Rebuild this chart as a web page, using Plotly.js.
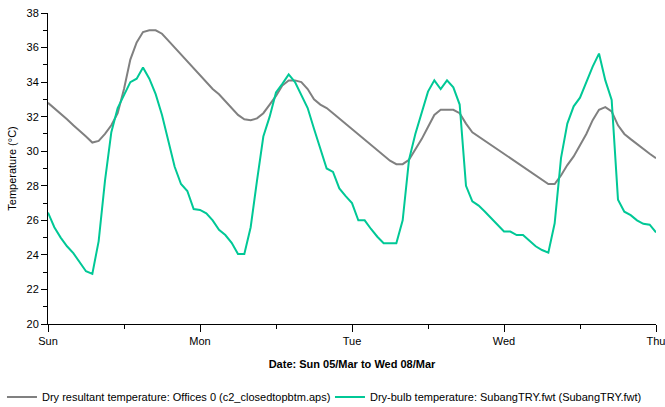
<!DOCTYPE html>
<html>
<head>
<meta charset="utf-8">
<script src="https://cdn.plot.ly/plotly-3.0.1.min.js"></script>
<style>
html,body{margin:0;padding:0;background:#fff;}
#chart{width:665px;height:407px;}
</style>
</head>
<body>
<div id="chart"></div>
<script>
// Hours from Sun 05/Mar 00:00 to Thu 09/Mar 00:00
var hours = [];
for (var i = 0; i <= 96; i++) hours.push(i);

var dayTickVals = [0, 24, 48, 72, 96];
var dayTickText = ["Sun", "Mon", "Tue", "Wed", "Thu"];
var halfDayTicks = [12, 36, 60, 84];

// Dry resultant temperature: Offices 0 (c2_closedtopbtm.aps)
var dryResultant = [
  32.8, 32.5, 32.2, 31.85, 31.5, 31.2, 30.85, 30.5, 30.6, 31.0,
  31.5, 32.2, 33.6, 35.3, 36.3, 36.9, 37.0, 37.0, 36.8, 36.4,
  36.0, 35.6, 35.2, 34.8, 34.4, 34.0, 33.6, 33.3, 32.9, 32.5,
  32.1, 31.85, 31.8, 31.9, 32.2, 32.7, 33.2, 33.8, 34.1, 34.1,
  34.0, 33.6, 33.0, 32.7, 32.5, 32.2, 31.9, 31.55, 31.25, 30.95,
  30.65, 30.35, 30.05, 29.75, 29.45, 29.25, 29.25, 29.5, 30.1, 30.7,
  31.4, 32.1, 32.4, 32.4, 32.4, 32.2, 31.6, 31.1, 30.85, 30.6,
  30.35, 30.1, 29.85, 29.6, 29.35, 29.1, 28.85, 28.6, 28.35, 28.1,
  28.1, 28.6, 29.2, 29.7, 30.35, 31.0, 31.8, 32.4, 32.55, 32.3,
  31.5, 31.0, 30.7, 30.4, 30.15, 29.85, 29.6
];

// Dry-bulb temperature: SubangTRY.fwt (SubangTRY.fwt)
var dryBulb = [
  26.45, 25.6, 25.0, 24.5, 24.1, 23.55, 23.05, 22.9, 24.8, 28.3,
  31.1, 32.5, 33.3, 34.0, 34.2, 34.85, 34.2, 33.3, 32.1, 30.6,
  29.1, 28.1, 27.7, 26.65, 26.6, 26.4, 26.0, 25.45, 25.15, 24.7,
  24.05, 24.05, 25.6, 28.3, 30.85, 32.0, 33.4, 33.9, 34.45, 34.0,
  33.2, 32.5, 31.3, 30.2, 29.0, 28.8, 27.85, 27.4, 27.0, 26.0,
  26.0, 25.5, 25.05, 24.67, 24.67, 24.67, 26.0, 29.5, 31.0, 32.3,
  33.45, 34.1, 33.6, 34.1, 33.7, 32.7, 28.0, 27.1, 26.85, 26.5,
  26.1, 25.7, 25.35, 25.35, 25.15, 25.15, 24.8, 24.5, 24.28, 24.13,
  25.83, 29.6, 31.6, 32.6, 33.1, 34.0, 34.9, 35.65, 34.1, 32.97,
  27.2, 26.5, 26.3, 26.0, 25.8, 25.75, 25.3
];

var seriesNames = [
  "Dry resultant temperature: Offices 0 (c2_closedtopbtm.aps)",
  "Dry-bulb temperature: SubangTRY.fwt (SubangTRY.fwt)"
];

var FONT = "Liberation Sans, Arial, sans-serif";

var traces = [
  {x: hours, y: dryResultant, name: seriesNames[0], type: "scatter", mode: "lines",
   line: {color: "#808080", width: 2}},
  {x: hours, y: dryBulb, name: seriesNames[1], type: "scatter", mode: "lines",
   line: {color: "#00C896", width: 2}}
];

var layout = {
  width: 665, height: 407,
  margin: {l: 48, r: 9, t: 13, b: 83, autoexpand: false},
  paper_bgcolor: "#fff", plot_bgcolor: "#fff",
  font: {family: FONT, size: 11, color: "#000"},
  showlegend: true,
  legend: {orientation: "h", xref: "paper", yref: "paper", x: -0.0757, y: -0.235,
           xanchor: "left", yanchor: "middle", font: {size: 11, family: FONT},
           entrywidth: 283, entrywidthmode: "pixels", tracegroupgap: 0},
  xaxis: {
    range: [0, 96], tickmode: "array", tickvals: dayTickVals, ticktext: dayTickText,
    ticks: "outside", ticklen: 7, tickcolor: "#000", tickwidth: 1,
    ticklabeloverflow: "allow",
    showline: true, linecolor: "#000", linewidth: 1, showgrid: false, zeroline: false,
    minor: {tickmode: "array", tickvals: halfDayTicks, ticks: "outside", ticklen: 4, tickcolor: "#000", showgrid: false},
    tickfont: {size: 11},
    title: {text: "<b>Date: Sun 05/Mar to Wed 08/Mar</b>", font: {size: 11}, standoff: 14}
  },
  yaxis: {
    range: [20, 38], dtick: 2, tick0: 20, ticks: "outside", ticklen: 6, tickcolor: "#000",
    showline: true, linecolor: "#000", linewidth: 1, showgrid: false, zeroline: false,
    minor: {dtick: 1, ticks: "outside", ticklen: 4, tickcolor: "#000", showgrid: false},
    tickfont: {size: 11},
    title: {text: "Temperature (°C)", font: {size: 11}}
  }
};

Plotly.newPlot("chart", traces, layout, {displayModeBar: false, staticPlot: true});
</script>
</body>
</html>
